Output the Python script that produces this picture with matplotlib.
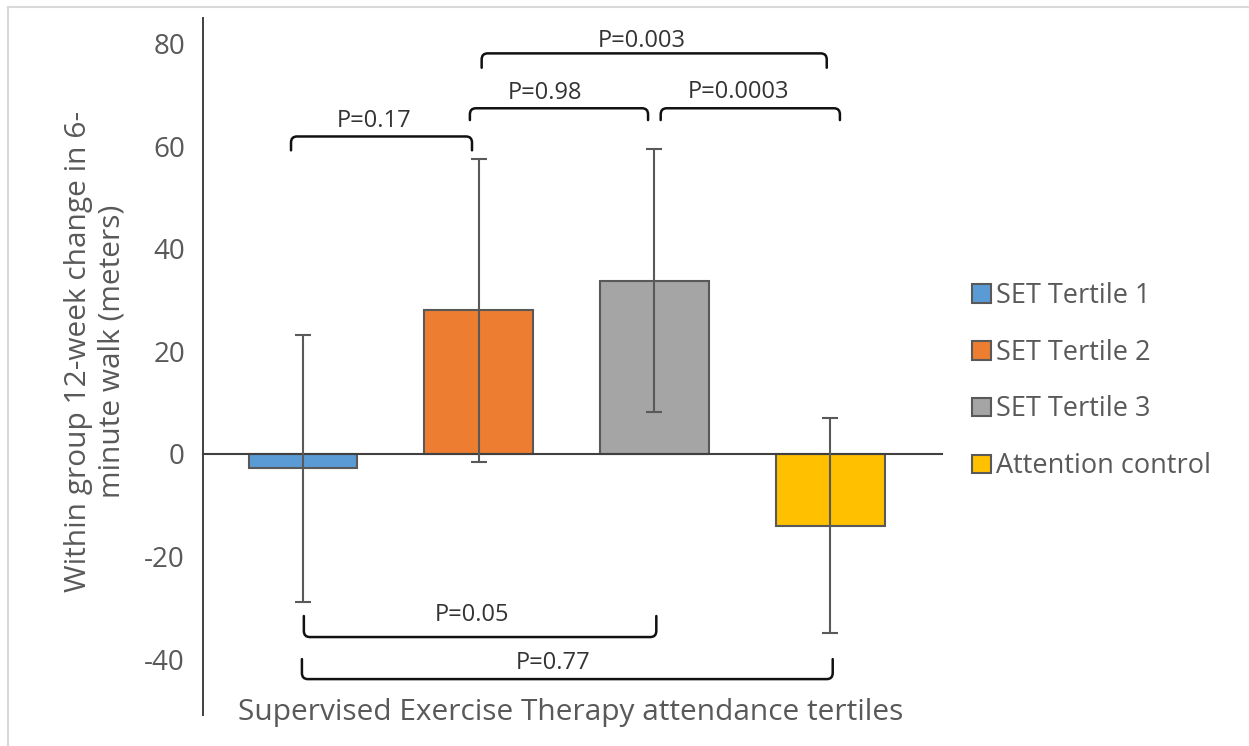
import matplotlib
matplotlib.use('Agg')
import matplotlib.pyplot as plt
from matplotlib.path import Path
from matplotlib.patches import PathPatch
from matplotlib.lines import Line2D

plt.rcParams['font.family'] = ['Open Sans', 'DejaVu Sans']
plt.rcParams['axes.unicode_minus'] = False

# data
groups = ['SET Tertile 1', 'SET Tertile 2', 'SET Tertile 3', 'Attention control']
change = [-2.8, 28.0, 33.8, -14.0]
err = [26.0, 29.5, 25.7, 21.0]
colors = ['#5B9BD5', '#ED7D31', '#A5A5A5', '#FFC000']

p_labels = ['P=0.17', 'P=0.98', 'P=0.0003', 'P=0.003', 'P=0.05', 'P=0.77']
# bracket layout: x0, x1, y of bar line, y of ends, text x, text y
brackets = [
    (-0.068, 0.962, 61.9, 59.2, 0.404, 64.9),
    (0.950, 1.964, 67.4, 65.1, 1.377, 70.4),
    (2.036, 3.056, 67.4, 65.1, 2.476, 70.6),
    (1.017, 2.981, 78.1, 75.3, 1.929, 80.6),
    (0.005, 2.011, -35.7, -31.6, 0.960, -31.4),
    (-0.006, 3.015, -43.9, -40.0, 1.426, -40.7),
]

W, H = 1249, 746
fig = plt.figure(figsize=(W / 100, H / 100), dpi=100)
ax = fig.add_axes([203 / W, 1 - 715 / H, 739 / W, 697 / H])

x = range(len(groups))
bars = ax.bar(x, change, width=0.62, color=colors, edgecolor='#595959',
              linewidth=1.5, zorder=2, label=groups)
ax.errorbar(x, change, yerr=err, fmt='none', ecolor='#595959',
            elinewidth=1.5, capsize=5.5, capthick=1.5, zorder=3)

ax.set_xlim(-0.569, 3.637)
ax.set_ylim(-50.9, 85.0)
ax.set_yticks([-40, -20, 0, 20, 40, 60, 80])
ax.set_xticks([])
ax.tick_params(axis='y', length=0, pad=13, labelsize=20, labelcolor='#595959')

for s in ['top', 'right']:
    ax.spines[s].set_visible(False)
ax.spines['left'].set_color('#404040')
ax.spines['left'].set_linewidth(1.4)
ax.spines['bottom'].set_position(('data', 0))
ax.spines['bottom'].set_color('#404040')
ax.spines['bottom'].set_linewidth(1.5)

ax.set_ylabel('Within group 12-week change in 6-\nminute walk (meters)',
              fontsize=21.5, color='#595959', va='center', linespacing=1.2)
ax.yaxis.set_label_coords(-0.146, 0.522)
ax.set_xlabel('Supervised Exercise Therapy attendance tertiles',
              fontsize=21.5, color='#595959', va='center')
ax.xaxis.set_label_coords(0.498, 0.004)

# significance brackets with rounded corners
rx, ry = 0.034, 1.2
for label, (x0, x1, yl, ye, tx, ty) in zip(p_labels, brackets):
    d = 1 if yl > ye else -1
    verts = [(x0, ye), (x0, yl - d * ry), (x0, yl), (x0 + rx, yl),
             (x1 - rx, yl), (x1, yl), (x1, yl - d * ry), (x1, ye)]
    codes = [Path.MOVETO, Path.LINETO, Path.CURVE3, Path.CURVE3,
             Path.LINETO, Path.CURVE3, Path.CURVE3, Path.LINETO]
    ax.add_patch(PathPatch(Path(verts, codes), fill=False, edgecolor='#111111',
                           linewidth=1.8, capstyle='round', zorder=4,
                           clip_on=False))
    ax.text(tx, ty, label, ha='center', va='center', fontsize=17,
            color='#333333', zorder=5)

fig.legend(handles=list(bars), labels=groups, loc='center left',
           bbox_to_anchor=(958 / W, 1 - 381 / H), frameon=False,
           fontsize=19.5, labelcolor='#595959', handlelength=0.7,
           handleheight=0.7, handletextpad=0.2, labelspacing=1.07,
           borderpad=0)

# light chart border (top and left edges visible)
fig.add_artist(Line2D([8 / W, 1], [1 - 7 / H, 1 - 7 / H], color='#d9d9d9', lw=1.5))
fig.add_artist(Line2D([8 / W, 8 / W], [0, 1 - 7 / H], color='#d9d9d9', lw=1.5))

fig.savefig('out.png', dpi=100)
